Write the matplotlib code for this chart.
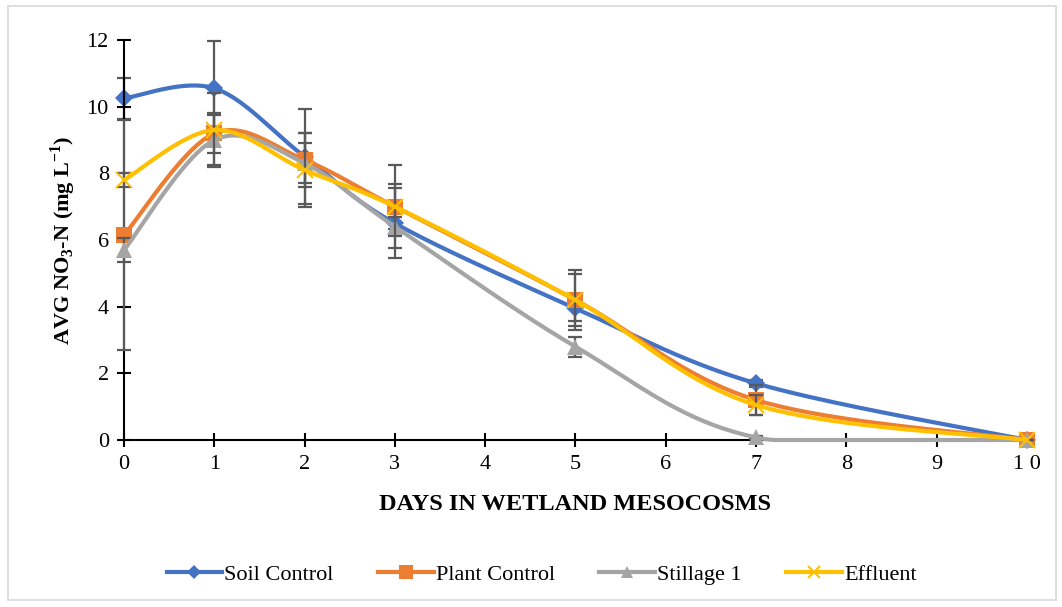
import matplotlib
matplotlib.use("Agg")
import matplotlib.pyplot as plt
import numpy as np
from matplotlib.patches import Rectangle

plt.rcParams['mathtext.fontset'] = 'custom'
plt.rcParams['mathtext.rm'] = 'Liberation Serif:bold'
plt.rcParams['mathtext.bf'] = 'Liberation Serif:bold'

days = [0, 1, 2, 3, 5, 7, 10]

soil = [10.25, 10.55, 8.5, 6.5, 3.95, 1.7, 0.0]
plant = [6.15, 9.2, 8.4, 7.0, 4.2, 1.2, 0.0]
stillage = [5.7, 9.0, 8.3, 6.4, 2.8, 0.08, 0.0]
effluent = [7.8, 9.3, 8.1, 7.0, 4.2, 1.05, 0.0]

soil_err = [0.62, 1.42, 1.42, 1.05, 0.38, 0.1, 0.0]
plant_err = [3.45, 0.6, 0.8, 0.67, 0.9, 0.45, 0.0]
stillage_err = [0.35, 0.75, 0.6, 0.28, 0.3, 0.05, 0.0]
effluent_err = [0.2, 1.1, 1.1, 1.25, 0.78, 0.3, 0.0]

labels = ["Soil Control", "Plant Control", "Stillage 1", "Effluent"]
colors = ["#4472C4", "#ED7D31", "#A5A5A5", "#FFC000"]
markers = ["D", "s", "^", "x"]
msizes = [9, 12, 11, 11]


def smooth(x, y, n=40):
    # Excel-style smoothed line: cubic bezier through the points (Catmull-Rom)
    p = np.column_stack([x, y]).astype(float)
    p = np.vstack([p[0], p, p[-1]])
    out = []
    t = np.linspace(0, 1, n)[:, None]
    for i in range(1, len(p) - 2):
        p0, p1, p2, p3 = p[i - 1], p[i], p[i + 1], p[i + 2]
        b1 = p1 + (p2 - p0) / 6
        b2 = p2 - (p3 - p1) / 6
        seg = ((1 - t) ** 3) * p1 + 3 * ((1 - t) ** 2) * t * b1 + 3 * (1 - t) * t ** 2 * b2 + t ** 3 * p2
        out.append(seg)
    out = np.vstack(out)
    return out[:, 0], np.maximum(out[:, 1], 0)


fig = plt.figure(figsize=(10.62, 6.07), dpi=100)
ax = fig.add_axes([0.1168, 0.2751, 0.8502, 0.659])

series = [soil, plant, stillage, effluent]
errs = [soil_err, plant_err, stillage_err, effluent_err]
handles = []
for i, (vals, err) in enumerate(zip(series, errs)):
    ax.errorbar(days, vals, yerr=err, fmt='none', ecolor='#595959', elinewidth=1.6,
                capsize=5, capthick=1.6, zorder=2 + i, clip_on=False)
    sx, sy = smooth(days, vals)
    ax.plot(sx, sy, color=colors[i], lw=3, zorder=2 + i, solid_capstyle='round', clip_on=False)
    mew = 1.5 if markers[i] == 'x' else 0
    ax.plot(days, vals, linestyle='none', marker=markers[i], color=colors[i], ms=msizes[i],
            mew=mew, zorder=2 + i, clip_on=False)
    h, = ax.plot([], [], color=colors[i], lw=3, marker=markers[i], ms=msizes[i] * 0.8, mew=mew)
    handles.append(h)

ax.set_xlim(0, 10)
ax.set_ylim(0, 12)
ax.set_xticks(range(0, 11))
ax.set_yticks(range(0, 13, 2))
ax.set_xticklabels(["0", "1", "2", "3", "4", "5", "6", "7", "8", "9", "1 0"])
for s in ['top', 'right']:
    ax.spines[s].set_visible(False)
for s in ['left', 'bottom']:
    ax.spines[s].set_linewidth(1.5)
ax.tick_params(direction='inout', length=10, width=1.5, labelsize=16, pad=6)
for lab in ax.get_xticklabels() + ax.get_yticklabels():
    lab.set_fontfamily('Liberation Serif')

ax.set_xlabel("DAYS IN WETLAND MESOCOSMS", fontfamily='Liberation Serif', fontweight='bold',
              fontsize=17.5, labelpad=14)
ax.set_ylabel("AVG NO$_3$-N (mg L$^{-1}$)", fontfamily='Liberation Serif', fontweight='bold',
              fontsize=16, labelpad=6)

fig.legend(handles, labels, loc='center', bbox_to_anchor=(0.51, 0.053), ncol=4, frameon=False,
           prop={'family': 'Liberation Serif', 'size': 16}, handlelength=2.5, handletextpad=0.1,
           columnspacing=2.0)

fig.patches.append(Rectangle((8 / 1062, 7 / 607), 1048 / 1062, 594 / 607, transform=fig.transFigure,
                             fill=False, edgecolor='#D9D9D9', lw=1.2))

fig.savefig("out.png", dpi=100)
